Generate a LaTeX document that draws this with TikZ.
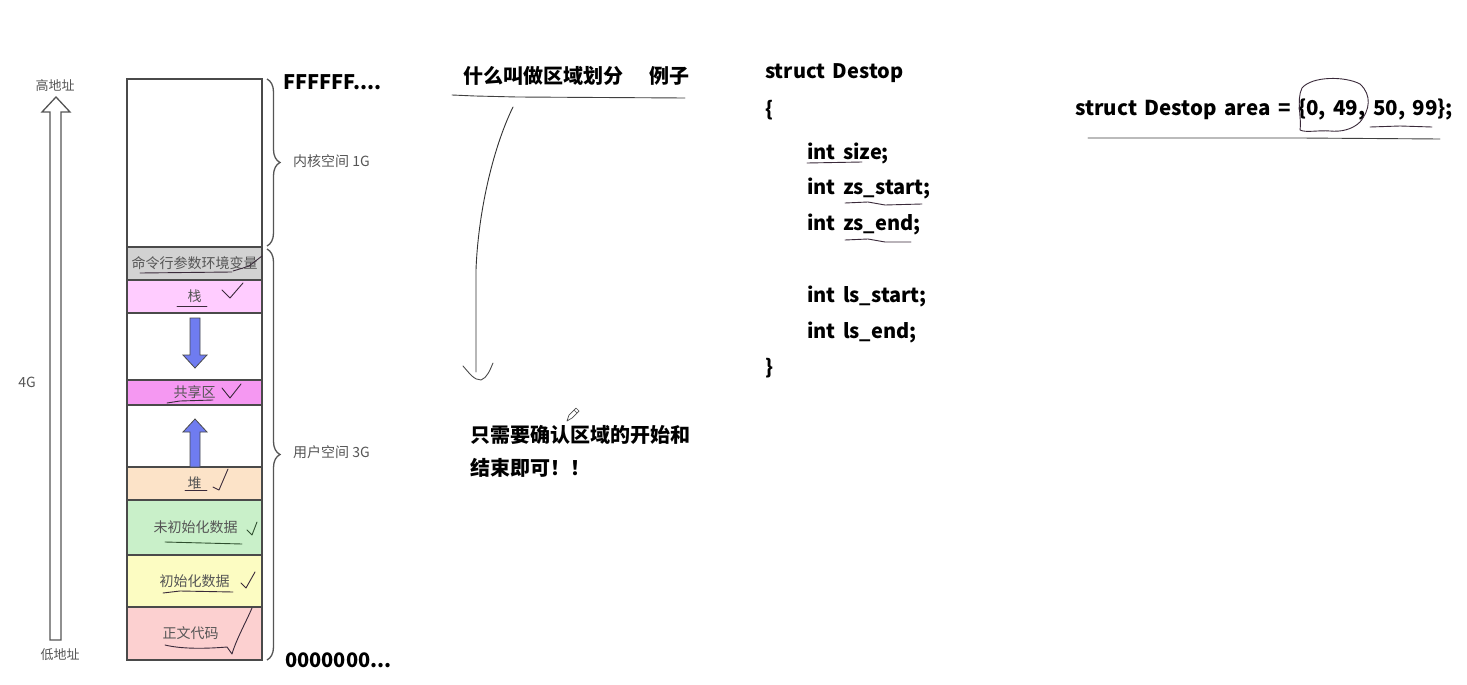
\documentclass[tikz,border=0pt]{standalone}
\usepackage{fontspec}
\setmainfont{Noto Sans CJK SC}
\newfontfamily\codefont{Noto Sans CJK SC}[WordSpace=1.6]
\usetikzlibrary{decorations.pathreplacing}
\definecolor{segborder}{HTML}{4A4A4A}
\definecolor{labelgray}{HTML}{555555}
\definecolor{cmdfill}{HTML}{D2D2D2}
\definecolor{stackfill}{HTML}{FFCCFF}
\definecolor{sharefill}{HTML}{F598F2}
\definecolor{heapfill}{HTML}{FCE3C8}
\definecolor{bssfill}{HTML}{C9F0C9}
\definecolor{datafill}{HTML}{FCFCC2}
\definecolor{textfill}{HTML}{FCD0D0}
\definecolor{bluearrow}{HTML}{6F7CF0}
\definecolor{inkc}{HTML}{3A2A3A}
\definecolor{inkgreen}{HTML}{2F4F2F}
\begin{document}
\begin{tikzpicture}[x=1pt,y=-1pt,
  seg/.style={draw=segborder, line width=1.8pt, minimum width=135pt, inner sep=0pt,
              font=\fontsize{14}{14}\selectfont, text=labelgray},
  lbl/.style={font=\fontsize{14}{14}\selectfont, text=labelgray, inner sep=0pt},
  big/.style={font=\bfseries\fontsize{20}{20}\selectfont, inner sep=0pt, anchor=west, text=black},
  code/.style={font=\codefont\bfseries\fontsize{20}{20}\selectfont, inner sep=0pt, anchor=west, text=black},
  ink/.style={line width=0.9pt, draw=inkc, line cap=round, line join=round},
  bracestyle/.style={draw=labelgray, line width=1.3pt, decorate, decoration={brace, amplitude=13pt}},
  blockarrow/.style={fill=bluearrow, draw=segborder, line width=0.8pt, line join=miter}
]
\useasboundingbox (0,0) rectangle (1467,685);
\fill[white] (0,0) rectangle (1467,685);

% memory column
\node[seg, fill=white, minimum height=168pt] (kernel) at (194.5,163) {};
\node[seg, fill=cmdfill, minimum height=33pt] (cmd) at (194.5,263.5) {命令行参数环境变量};
\node[seg, fill=stackfill, minimum height=33pt] (stack) at (194.5,296.5) {栈};
\node[seg, fill=white, minimum height=67pt] (gapa) at (194.5,346.5) {};
\node[seg, fill=sharefill, minimum height=25pt] (share) at (194.5,392.5) {共享区};
\node[seg, fill=white, minimum height=62pt] (gapb) at (194.5,436) {};
\node[seg, fill=heapfill, minimum height=33pt] (heap) at (194.5,483.5) {堆};
\node[seg, fill=bssfill, minimum height=55pt] (bss) at (194.5,527.5) {\hspace*{2pt}未初始化数据};
\node[seg, fill=datafill, minimum height=52pt] (data) at (194.5,581) {初始化数据};
\node[seg, fill=textfill, minimum height=53pt] (code) at (194.5,633.5) {正文代码\hspace*{8pt}};

% blue block arrows
\draw[blockarrow] (190,318) -- (200,318) -- (200,355) -- (207,355) -- (195,368) -- (183,355) -- (190,355) -- cycle;
\draw[blockarrow] (190,467) -- (200,467) -- (200,432) -- (207,432) -- (195,419) -- (183,432) -- (190,432) -- cycle;

% left address arrow
\draw[draw=labelgray, line width=1.3pt, line join=miter] (50,640) -- (61,640) -- (61,112) -- (70,112) -- (56,97) -- (42,112) -- (50,112) -- cycle;
\node[lbl, font=\fontsize{13}{13}\selectfont] (high) at (55,86) {高地址};
\node[lbl, font=\fontsize{13}{13}\selectfont] (low) at (60,655) {低地址};
\node[lbl] (fourg) at (27,382) {4G};

% braces
\draw[bracestyle] (267,79) -- (267,246);
\draw[bracestyle] (267,249) -- (267,660);
\node[lbl, anchor=west] (klabel) at (293,161) {内核空间 1G};
\node[lbl, anchor=west] (ulabel) at (293,452) {用户空间 3G};

\node[big] (fff) at (283,82) {FFFFFF....};
\node[big] (zero) at (285,660) {0000000...};

% middle
\node[big] (title) at (463,76) {什么叫做区域划分\hspace*{26pt}例子};
\draw[ink, draw=black!75] (452,95) -- (475,96) -- (517,97) -- (685,98);
\draw[ink, draw=black!80] (513,107) .. controls (492,150) and (478,215) .. (476,270) -- (476,372);
\draw[ink, draw=black!70] (463,366) .. controls (470,374) and (474,380) .. (481,380) .. controls (487,378) and (490,370) .. (493,363);
% pencil cursor
\draw[draw=black!70, line width=0.7pt, line join=round] (567,421) -- (569,415) -- (576,408) -- (579,411) -- (572,418) -- cycle (574,410) -- (577,413);
\node[big] (need1) at (470,435) {只需要确认区域的开始和};
\node[big] (need2) at (470,468) {结束即可！！};

% struct code
\node[code] (s1) at (765,73) {struct Destop};
\node[code] (s2) at (765,110) {\{};
\node[code] (s3) at (807,153) {int size;};
\node[code] (s4) at (807,188) {int zs\_start;};
\node[code] (s5) at (807,224) {int zs\_end;};
\node[code] (s6) at (807,296) {int ls\_start;};
\node[code] (s7) at (807,332) {int ls\_end;};
\node[code] (s8) at (765,368) {\}};
\draw[ink] (807,163) -- (862,162);
\draw[ink] (845,203) -- (868,202) -- (885,205) -- (922,204);
\draw[ink] (845,240) -- (868,239) -- (885,242) -- (911,242);

% right
\node[code, font=\codefont\bfseries\fontsize{20.5}{20.5}\selectfont] (area) at (1075,110) {struct Destop area = \{0, 49, 50, 99\};};
\draw[ink, draw=black!75] (1088,138) -- (1148,138) -- (1300,138) -- (1440,139);
\draw[ink] (1370,127) -- (1400,126) -- (1432,127);
\draw[ink] (1300,130) .. controls (1302,120) and (1296,100) .. (1302,88)
  .. controls (1312,76) and (1345,76) .. (1360,84)
  .. controls (1372,95) and (1370,110) .. (1360,122)
  .. controls (1352,130) and (1340,132) .. (1330,131)
  .. controls (1318,130) and (1306,133) .. (1300,130);

% handwritten annotations in the column
\draw[ink] (140,273) -- (232,272);
\draw[ink] (233,271) -- (243,268) -- (249,266) -- (262,256);
\draw[ink] (177,306) -- (207,306);
\draw[ink] (222,290) -- (230,298) -- (243,283);
\draw[ink] (167,403) -- (180,401) -- (213,400);
\draw[ink] (222,388) -- (230,398) -- (241,384);
\draw[ink] (185,490) -- (207,490);
\draw[ink] (213,487) -- (219,490) -- (228,469);
\draw[ink, draw=inkgreen] (165,542) -- (242,544);
\draw[ink, draw=inkgreen] (247,530) -- (252,535) -- (257,522);
\draw[ink] (163,593) -- (180,591) -- (233,592);
\draw[ink] (241,583) -- (246,588) -- (255,572);
\draw[ink] (165,645) .. controls (185,650) and (215,648) .. (227,647) -- (232,654) .. controls (236,640) and (246,622) .. (252,608);
\end{tikzpicture}
\end{document}
